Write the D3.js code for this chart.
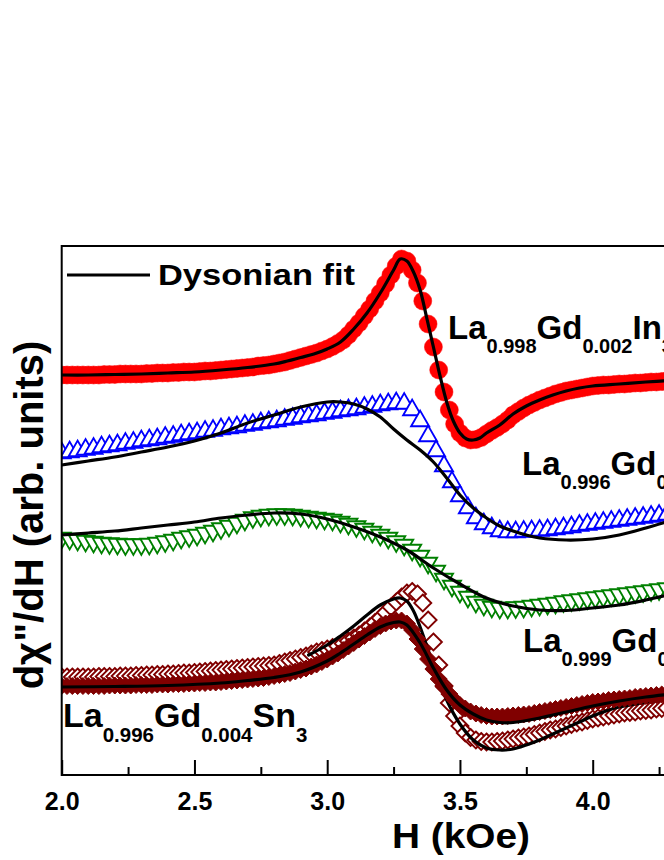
<!DOCTYPE html>
<html>
<head>
<meta charset="utf-8">
<script src="https://cdn.jsdelivr.net/npm/d3@7"></script>
<style>
  html, body { margin: 0; padding: 0; background: #fff; }
  svg { display: block; }
  text { font-family: "Liberation Sans", Arial, sans-serif; font-weight: bold; fill: #000; }
</style>
</head>
<body>
<svg id="chart" width="664" height="860"></svg>
<script>
// ---------------- DATA (H in kOe, signal in arb. units) ----------------
const xMajorTicks = [2.0, 2.5, 3.0, 3.5, 4.0];
const xMajorLabels = ["2.0", "2.5", "3.0", "3.5", "4.0"];
const xMinorTicks = [2.25, 2.75, 3.25, 3.75, 4.25];

// La0.998Gd0.002In3 (red filled circles)
const redData = [[2.00,400],[2.02,400],[2.04,400],[2.06,400],[2.08,400],[2.10,400],[2.12,400],[2.14,400],[2.16,400.5],[2.18,400.5],[2.20,400.5],[2.22,401],[2.24,401],[2.26,401],[2.28,401],[2.30,401],[2.32,401.5],[2.34,401.5],[2.36,402],[2.38,402],[2.40,402],[2.42,402.5],[2.44,402.5],[2.46,403],[2.48,403],[2.50,403],[2.52,403.5],[2.54,404],[2.56,404],[2.58,404.5],[2.60,405],[2.62,405.5],[2.64,406],[2.66,406.5],[2.68,407],[2.70,407.5],[2.72,408],[2.74,409],[2.76,409.5],[2.78,410],[2.80,411],[2.82,412],[2.84,413],[2.86,414.5],[2.88,416],[2.90,417.5],[2.92,419],[2.94,420.5],[2.96,422],[2.98,424],[3.00,426],[3.02,428.5],[3.04,431.5],[3.06,435],[3.08,440],[3.10,446],[3.12,452],[3.14,459],[3.16,466],[3.18,474],[3.20,482],[3.22,491],[3.24,500],[3.26,509],[3.28,516],[3.30,514],[3.32,505],[3.34,492],[3.36,474],[3.38,451],[3.40,428],[3.42,405],[3.44,383],[3.46,365],[3.48,351],[3.50,342],[3.52,337],[3.54,335],[3.56,335.5],[3.58,337.5],[3.60,341],[3.62,344.5],[3.64,347.5],[3.66,351],[3.68,355],[3.70,360],[3.72,363.5],[3.74,367],[3.76,370],[3.78,372.5],[3.80,375],[3.82,377],[3.84,379],[3.86,381],[3.88,382.5],[3.90,384],[3.92,385],[3.94,386],[3.96,387],[3.98,388],[4.00,389],[4.02,389.5],[4.04,390],[4.06,390],[4.08,390.5],[4.10,391],[4.12,391],[4.14,391.5],[4.16,392],[4.18,392],[4.20,392.5],[4.22,393],[4.24,393],[4.26,393.5],[4.28,394]];
const redFit = [[2.0,400],[2.1,400],[2.2,400.5],[2.3,401],[2.4,402],[2.5,403],[2.6,405],[2.7,407.5],[2.8,411],[2.85,414],[2.9,417.5],[2.95,421],[3.0,426],[3.05,433],[3.1,446],[3.15,462],[3.2,482],[3.25,505],[3.275,516],[3.3,514],[3.325,503],[3.35,485],[3.375,457],[3.4,428],[3.425,399],[3.45,373],[3.475,354],[3.5,342],[3.525,336],[3.55,335],[3.575,337],[3.6,342],[3.65,350],[3.7,361],[3.75,369],[3.8,375],[3.85,380],[3.9,384],[3.95,387],[4.0,389],[4.1,391],[4.2,393],[4.3,394.5]];

// La0.996Gd0.004In3 (blue open up-triangles)
const blueData = [[2.00,322],[2.03,323],[2.06,324],[2.09,325.5],[2.12,326.5],[2.15,328],[2.18,329],[2.21,330],[2.24,331.5],[2.27,332.5],[2.30,334],[2.33,335],[2.36,336],[2.39,337.5],[2.42,338.5],[2.45,340],[2.48,341],[2.51,342],[2.54,343.5],[2.57,344.5],[2.60,346],[2.63,347],[2.66,348],[2.69,349.5],[2.72,350.5],[2.75,352],[2.78,353],[2.81,354],[2.84,355.5],[2.87,356.5],[2.90,358],[2.93,359],[2.96,360],[2.99,361.5],[3.02,362.5],[3.05,364],[3.08,365],[3.11,366],[3.14,367.5],[3.17,368.5],[3.20,370],[3.23,371],[3.26,372],[3.29,371.5],[3.32,365],[3.35,354],[3.38,339],[3.41,324],[3.44,309],[3.47,293],[3.50,279],[3.53,267],[3.56,257],[3.59,251],[3.62,247],[3.65,244],[3.68,243],[3.71,243],[3.74,243.5],[3.77,244],[3.80,244.5],[3.83,245],[3.86,246],[3.89,247],[3.92,248],[3.95,249.5],[3.98,250.5],[4.01,251.5],[4.04,252.5],[4.07,253.5],[4.10,254.5],[4.13,255.5],[4.16,256.5],[4.19,257.5],[4.22,258.5],[4.25,259.5],[4.28,260.5]];
const blueFit = [[2.0,310],[2.1,314],[2.2,318],[2.3,323],[2.4,328],[2.5,334],[2.6,342],[2.7,352],[2.8,360],[2.9,368],[3.0,373],[3.05,373],[3.1,371],[3.15,366],[3.2,358],[3.25,346],[3.3,335],[3.35,325],[3.4,313],[3.45,297],[3.5,280],[3.55,267],[3.6,257],[3.65,249],[3.7,244],[3.75,240],[3.8,237],[3.9,235],[4.0,236],[4.1,240],[4.2,247],[4.3,255]];

// La0.999Gd0.001In3 (green open down-triangles)
const greenData = [[2.00,237],[2.03,236],[2.06,235],[2.09,234],[2.12,233],[2.15,232],[2.18,231.5],[2.21,231],[2.24,230.5],[2.27,230.5],[2.30,230.5],[2.33,231],[2.36,232],[2.39,233.5],[2.42,235],[2.45,237],[2.48,238.5],[2.51,240],[2.54,242],[2.57,244],[2.60,246.5],[2.63,249],[2.66,252],[2.69,255],[2.72,257.5],[2.75,259],[2.78,260],[2.81,260.5],[2.84,260.5],[2.87,260],[2.90,259],[2.93,258],[2.96,257],[2.99,256],[3.02,255],[3.05,253],[3.08,251],[3.11,248.5],[3.14,246],[3.17,243],[3.20,240],[3.23,237],[3.26,233.5],[3.29,230],[3.32,225],[3.35,219],[3.38,212],[3.41,204],[3.44,196],[3.47,189],[3.50,183],[3.53,178],[3.56,173],[3.59,170],[3.62,168],[3.65,167],[3.68,167],[3.71,167.5],[3.74,168],[3.77,169],[3.80,170],[3.83,171],[3.86,172],[3.89,173.5],[3.92,174.5],[3.95,175.5],[3.98,176.5],[4.01,177.5],[4.04,178.5],[4.07,179.5],[4.10,180.5],[4.13,181.5],[4.16,182.5],[4.19,183.5],[4.22,184.5],[4.25,185.5],[4.28,186.5]];
const greenFit = [[2.0,240],[2.1,242],[2.2,244],[2.3,247],[2.4,250],[2.5,253],[2.6,257],[2.7,260],[2.8,262],[2.9,261],[3.0,256],[3.1,248],[3.2,238],[3.3,225],[3.4,207],[3.5,191],[3.6,177],[3.7,169],[3.8,165],[3.9,164.5],[4.0,167],[4.1,170],[4.2,175],[4.3,181]];

// La0.996Gd0.004Sn3 (maroon filled diamonds and maroon open diamonds)
const snFilled = [[2.00,89],[2.02,89],[2.04,89],[2.06,89],[2.08,89],[2.10,89],[2.12,89],[2.14,89],[2.16,89],[2.18,89.5],[2.20,89.5],[2.22,89.5],[2.24,89.5],[2.26,89.5],[2.28,90],[2.30,90],[2.32,90],[2.34,90],[2.36,90.5],[2.38,90.5],[2.40,90.5],[2.42,91],[2.44,91],[2.46,91],[2.48,91.5],[2.50,91.5],[2.52,92],[2.54,92],[2.56,92.5],[2.58,92.5],[2.60,93],[2.62,93.5],[2.64,94],[2.66,94.5],[2.68,95],[2.70,95.5],[2.72,96],[2.74,96.5],[2.76,97],[2.78,98],[2.80,99],[2.82,100],[2.84,101],[2.86,102],[2.88,103.5],[2.90,105],[2.92,106.5],[2.94,108.5],[2.96,110.5],[2.98,113],[3.00,115.5],[3.02,118.5],[3.04,121.5],[3.06,125],[3.08,128.5],[3.10,132],[3.12,135.5],[3.14,139],[3.16,142.5],[3.18,146],[3.20,149],[3.22,151.5],[3.24,153.5],[3.26,154.5],[3.28,154.5],[3.30,151.5],[3.32,145],[3.34,136],[3.36,126],[3.38,116],[3.40,106],[3.42,96],[3.44,88],[3.46,81],[3.48,75],[3.50,70],[3.52,66.5],[3.54,63.5],[3.56,61.5],[3.58,60],[3.60,59],[3.62,58.5],[3.64,58.5],[3.66,58.5],[3.68,59],[3.70,59.5],[3.72,60],[3.74,60.5],[3.76,61],[3.78,62],[3.80,63],[3.82,64],[3.84,65],[3.86,66],[3.88,67],[3.90,68],[3.92,69],[3.94,70],[3.96,71],[3.98,72],[4.00,73],[4.02,73.5],[4.04,74],[4.06,75],[4.08,75.5],[4.10,76],[4.12,76.5],[4.14,77],[4.16,78],[4.18,78.5],[4.20,79],[4.22,79.5],[4.24,80],[4.26,80.5],[4.28,81]];
const snFilledFit = [[2.0,88],[2.2,88.5],[2.4,89.5],[2.6,92],[2.7,94.5],[2.8,97.5],[2.9,103],[3.0,114],[3.05,122],[3.1,131],[3.15,140],[3.2,148],[3.25,152.5],[3.275,153],[3.3,150],[3.35,132],[3.4,107],[3.45,85],[3.5,70],[3.55,61],[3.6,55],[3.65,52.5],[3.7,52.5],[3.8,57],[3.9,63],[4.0,69],[4.1,74],[4.2,78],[4.3,81]];
const snOpen = [[2.00,98],[2.02,98],[2.04,98],[2.06,98],[2.08,98],[2.10,98],[2.12,98],[2.14,98.5],[2.16,98.5],[2.18,98.5],[2.20,98.5],[2.22,99],[2.24,99],[2.26,99],[2.28,99.5],[2.30,99.5],[2.32,100],[2.34,100],[2.36,100.5],[2.38,100.5],[2.40,101],[2.42,101],[2.44,101.5],[2.46,102],[2.48,102],[2.50,102.5],[2.52,103],[2.54,103.5],[2.56,104],[2.58,104.5],[2.60,105],[2.62,105.5],[2.64,106],[2.66,106.5],[2.68,107],[2.70,107.5],[2.72,108],[2.74,108.5],[2.76,109],[2.78,109.5],[2.80,110],[2.82,111.5],[2.84,113],[2.86,114.5],[2.88,116],[2.90,117.5],[2.92,119],[2.94,121],[2.96,123],[2.98,124.5],[3.00,126],[3.02,127.5],[3.04,129],[3.06,131.5],[3.08,134],[3.10,137],[3.12,140],[3.14,144],[3.16,148],[3.18,152.5],[3.20,157],[3.22,162.5],[3.24,168],[3.26,173],[3.28,178],[3.30,182],[3.32,183.5],[3.34,181],[3.36,172],[3.38,155],[3.40,133],[3.42,110],[3.44,89],[3.46,72],[3.48,59],[3.50,49],[3.52,42],[3.54,37.5],[3.56,35],[3.58,33.5],[3.60,33],[3.62,33],[3.64,33.5],[3.66,34],[3.68,35],[3.70,36],[3.72,37],[3.74,38],[3.76,39],[3.78,40.5],[3.80,42],[3.82,43.5],[3.84,45],[3.86,46],[3.88,47.5],[3.90,49],[3.92,50.5],[3.94,52],[3.96,53],[3.98,54.5],[4.00,56],[4.02,57],[4.04,58],[4.06,59],[4.08,60],[4.10,61],[4.12,62],[4.14,62.5],[4.16,63],[4.18,64],[4.20,64.5],[4.22,65],[4.24,66],[4.26,66.5],[4.28,67]];
const snOpenFit = [[2.93,120],[3.0,130],[3.05,139],[3.1,149],[3.15,160],[3.2,170],[3.25,176],[3.275,177],[3.3,174],[3.325,164],[3.35,148],[3.4,110],[3.45,75],[3.5,51],[3.55,35],[3.6,27],[3.65,25],[3.7,26],[3.75,30],[3.8,35],[3.85,41],[3.9,47],[3.95,53],[4.0,59],[4.05,64],[4.1,68],[4.2,73],[4.3,77]];

// Text
const legendText = "Dysonian fit";
const xTitle = "H (kOe)";
const yTitle = "d\u03C7\"/dH (arb. units)";
const labelRed   = [["La",0],["0.998",1],["Gd",0],["0.002",1],["In",0],["3",1]];
const labelBlue  = [["La",0],["0.996",1],["Gd",0],["0.004",1],["In",0],["3",1]];
const labelGreen = [["La",0],["0.999",1],["Gd",0],["0.001",1],["In",0],["3",1]];
const labelSn    = [["La",0],["0.996",1],["Gd",0],["0.004",1],["Sn",0],["3",1]];

// Colours
const cRed = "#ff0000", cBlue = "#0000ff", cGreen = "#008000", cMaroon = "#800000";

// ---------------- LAYOUT ----------------
const svg = d3.select("#chart");
const plotL = 61.7, plotT = 246, plotB = 775;
const x = d3.scaleLinear().domain([2.0, 4.5]).range([plotL, plotL + 2.5 * 265.5]);
const y = d3.scaleLinear().domain([0, 529]).range([plotB, plotT]);
const plotR = x(4.5);

svg.append("defs").append("clipPath").attr("id", "plotclip")
  .append("rect").attr("x", plotL).attr("y", plotT)
  .attr("width", plotR - plotL).attr("height", plotB - plotT);

const plot = svg.append("g").attr("clip-path", "url(#plotclip)");

const line = d3.line().x(d => x(d[0])).y(d => y(d[1])).curve(d3.curveCatmullRom.alpha(0.5));

// marker shapes
const triS = 18, triH = triS * Math.sqrt(3) / 2;
const triUp = `M0,${-2*triH/3}L${triS/2},${triH/3}L${-triS/2},${triH/3}Z`;
const triDown = `M0,${2*triH/3}L${triS/2},${-triH/3}L${-triS/2},${-triH/3}Z`;
const dd = 8.5;
const diamond = `M0,${-dd}L${dd},0L0,${dd}L${-dd},0Z`;

function markers(data, shape, fill, stroke, sw) {
  const g = plot.append("g");
  if (shape === "circle") {
    g.selectAll("circle").data(data).join("circle")
      .attr("cx", d => x(d[0])).attr("cy", d => y(d[1])).attr("r", 9)
      .attr("fill", fill).attr("stroke", stroke).attr("stroke-width", sw);
  } else {
    g.selectAll("path").data(data).join("path")
      .attr("d", shape)
      .attr("transform", d => `translate(${x(d[0])},${y(d[1])})`)
      .attr("fill", fill).attr("stroke", stroke).attr("stroke-width", sw)
      .attr("stroke-linejoin", "miter");
  }
}
function fit(data) {
  plot.append("path").datum(data).attr("d", line)
    .attr("fill", "none").attr("stroke", "#000").attr("stroke-width", 3.2)
    .attr("stroke-linejoin", "round").attr("stroke-linecap", "round");
}

markers(blueData, triUp, "#fff", cBlue, 1.9);
fit(blueFit);
markers(greenData, triDown, "#fff", cGreen, 1.9);
fit(greenFit);
markers(redData, "circle", cRed, cRed, 0.5);
fit(redFit);
markers(snOpen, diamond, "#fff", cMaroon, 1.9);
fit(snOpenFit);
markers(snFilled, diamond, cMaroon, cMaroon, 1);
fit(snFilledFit);

// ---------------- AXES / FRAME ----------------
svg.append("rect").attr("x", plotL).attr("y", plotT)
  .attr("width", plotR - plotL).attr("height", plotB - plotT)
  .attr("fill", "none").attr("stroke", "#000").attr("stroke-width", 2);

const axMaj = svg.append("g").attr("transform", `translate(0,${plotB})`)
  .call(d3.axisBottom(x).tickValues(xMajorTicks)
    .tickFormat((d, i) => xMajorLabels[i]).tickSize(-15).tickPadding(17));
axMaj.select(".domain").remove();
axMaj.selectAll(".tick line").attr("stroke", "#000").attr("stroke-width", 2);
axMaj.selectAll(".tick text").attr("font-size", 25).attr("font-family", "Liberation Sans, Arial, sans-serif")
  .attr("font-weight", "bold").attr("fill", "#000");

const axMin = svg.append("g").attr("transform", `translate(0,${plotB})`)
  .call(d3.axisBottom(x).tickValues(xMinorTicks).tickFormat("").tickSize(-8));
axMin.select(".domain").remove();
axMin.selectAll(".tick line").attr("stroke", "#000").attr("stroke-width", 2);

// axis titles
svg.append("text").attr("x", 461).attr("y", 848).attr("text-anchor", "middle")
  .attr("font-size", 35).attr("textLength", 138).attr("lengthAdjust", "spacingAndGlyphs")
  .text(xTitle);
svg.append("text").attr("transform", "translate(43,515) rotate(-90)")
  .attr("text-anchor", "middle").attr("font-size", 40).text(yTitle);

// legend
svg.append("line").attr("x1", 67).attr("x2", 150).attr("y1", 275).attr("y2", 275)
  .attr("stroke", "#000").attr("stroke-width", 3.2);
svg.append("text").attr("x", 158).attr("y", 285).attr("font-size", 30)
  .attr("textLength", 197).attr("lengthAdjust", "spacingAndGlyphs").text(legendText);

// sample labels
function formula(parts, x0, y0, fs, sfs, shift) {
  const t = svg.append("text").attr("x", x0).attr("y", y0).attr("font-size", fs);
  let cur = 0;
  parts.forEach(([s, sub]) => {
    const target = sub ? shift : 0;
    t.append("tspan").attr("dy", target - cur).attr("font-size", sub ? sfs : fs).text(s);
    cur = target;
  });
}
formula(labelRed, 448, 339, 33, 20, 14);
formula(labelBlue, 522, 475, 33, 20, 14);
formula(labelGreen, 523, 652, 33, 20, 14);
formula(labelSn, 63, 727, 34, 20.5, 15);
</script>
</body>
</html>
